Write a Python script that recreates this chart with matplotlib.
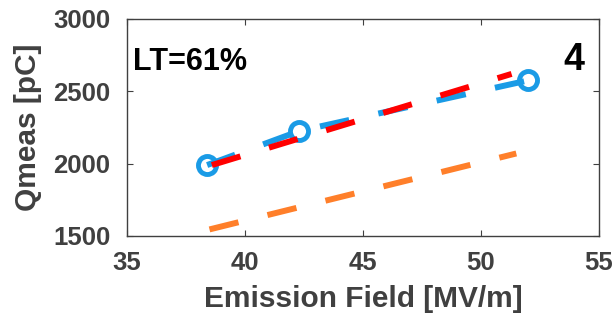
import matplotlib
matplotlib.use("Agg")
import matplotlib.pyplot as plt

# measured points
field_meas = [38.4, 42.3, 52.0]
q_meas = [1990, 2225, 2575]
# model fits
field_fit = [38.6, 51.3]
q_fit_red = [1990, 2620]
field_fit2 = [38.5, 51.5]
q_fit_orange = [1545, 2070]

plt.rcParams['font.family'] = ['Liberation Sans', 'DejaVu Sans']
plt.rcParams['font.weight'] = 'bold'
plt.rcParams['axes.labelweight'] = 'bold'

fig = plt.figure(figsize=(6.13, 3.21), dpi=100)
ax = fig.add_axes([0.207, 0.265, 0.770, 0.676])

grey = '#404040'
dash = (0, (5, 5))
ax.plot(field_meas, q_meas, color='#1a9be6', lw=4.3, ls=dash, marker='o',
        ms=13, mfc='none', mew=3.5, zorder=2)
ax.plot(field_fit, q_fit_red, color='#ff0000', lw=4.3, ls=dash, zorder=3)
ax.plot(field_fit2, q_fit_orange, color='#ff7f2a', lw=4.3, ls=dash, zorder=3)

ax.set_xlim(35, 55)
ax.set_ylim(1500, 3000)
ax.set_xticks([35, 40, 45, 50, 55])
ax.set_yticks([1500, 2000, 2500, 3000])
ax.tick_params(axis='both', direction='in', top=True, right=True, labelsize=18.5,
               colors=grey, labelcolor=grey, length=4)
ax.tick_params(axis='y', pad=12)
ax.tick_params(axis='x', pad=11)
for s in ax.spines.values():
    s.set_color(grey)
    s.set_linewidth(1)
ax.set_xlabel('Emission Field [MV/m]', fontsize=21.5, color=grey, labelpad=7)
ax.set_ylabel('Qmeas [pC]', fontsize=21.5, color=grey, labelpad=8)

ax.text(0.013, 0.80, 'LT=61%', transform=ax.transAxes, fontsize=22,
        color='black', ha='left', va='center')
ax.text(0.97, 0.81, '4', transform=ax.transAxes, fontsize=27,
        color='black', ha='right', va='center')

fig.savefig('out.png', dpi=100)
